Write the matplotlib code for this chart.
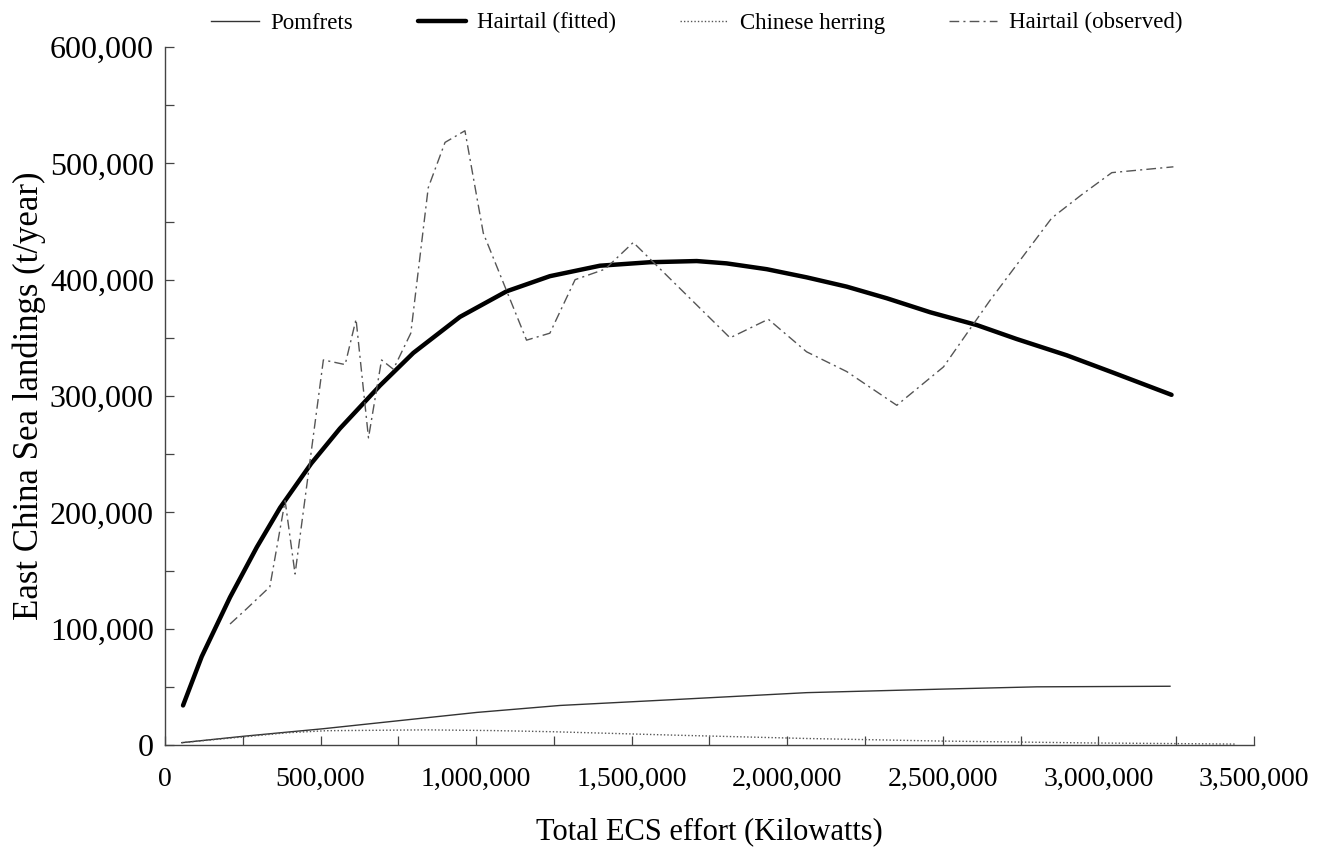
import matplotlib
matplotlib.use("Agg")
import matplotlib.pyplot as plt
from matplotlib.ticker import MultipleLocator, FuncFormatter

plt.rcParams.update({
    "font.family": ["Liberation Serif", "DejaVu Serif"],
    "font.size": 20,
})

# Hairtail, fitted curve (effort kW, landings t)
fit_x = [58e3, 118e3, 209e3, 295e3, 370e3, 470e3, 562e3, 691e3, 798e3,
         948e3, 1098e3, 1237e3, 1398e3, 1559e3, 1709e3, 1805e3, 1934e3, 2062e3,
         2191e3, 2320e3, 2459e3, 2609e3, 2737e3, 2898e3, 3048e3, 3235e3]
fit_y = [34e3, 76e3, 127e3, 170e3, 204e3, 242e3, 272e3, 309e3, 337e3,
         368e3, 390e3, 403e3, 412e3, 415e3, 416e3, 414e3, 409e3, 402e3,
         394e3, 384e3, 372e3, 361e3, 349e3, 335e3, 320e3, 301e3]

# Hairtail, observed landings
obs_x = [209e3, 262e3, 337e3, 386e3, 418e3, 509e3, 579e3, 614e3, 654e3, 696e3,
         734e3, 790e3, 846e3, 900e3, 964e3, 1023e3, 1162e3, 1237e3, 1318e3, 1414e3,
         1505e3, 1816e3, 1939e3, 2062e3, 2191e3, 2352e3, 2502e3, 2651e3, 2850e3,
         2946e3, 3043e3, 3241e3]
obs_y = [104e3, 117e3, 136e3, 210e3, 147e3, 331e3, 327e3, 366e3, 264e3, 331e3,
         323e3, 354e3, 479e3, 518e3, 528e3, 440e3, 348e3, 354e3, 400e3, 409e3,
         432e3, 350e3, 366e3, 338e3, 321e3, 292e3, 325e3, 382e3, 453e3,
         473e3, 492e3, 497e3]

# Pomfrets
pom_x = [54e3, 252e3, 509e3, 755e3, 1002e3, 1270e3, 1634e3, 2062e3, 2491e3, 2802e3, 3230e3]
pom_y = [2e3, 7.5e3, 14e3, 21e3, 28e3, 34e3, 39e3, 45e3, 48e3, 50e3, 50.5e3]

# Chinese herring
her_x = [54e3, 391e3, 520e3, 841e3, 1055e3, 1247e3, 1633e3, 2062e3, 2491e3, 2962e3, 3439e3]
her_y = [2e3, 10.5e3, 12.3e3, 13e3, 12.4e3, 11.4e3, 8.5e3, 5.6e3, 3.4e3, 1.8e3, 0.8e3]

fig = plt.figure(figsize=(13.27, 8.5), dpi=100)
ax = fig.add_axes([165 / 1327, 105 / 850, 1089 / 1327, 698 / 850])

ax.plot(pom_x, pom_y, color="#333333", lw=1.0, label="Pomfrets")
ax.plot(fit_x, fit_y, color="black", lw=3.2, solid_capstyle="round",
        solid_joinstyle="round", label="Hairtail (fitted)")
ax.plot(her_x, her_y, color="#555555", lw=1.0, linestyle=(0, (1, 1.5)), label="Chinese herring")
ax.plot(obs_x, obs_y, color="#555555", lw=1.0, linestyle=(0, (7, 3, 1.5, 3)), label="Hairtail (observed)")

ax.set_xlim(0, 3500000)
ax.set_ylim(0, 600000)
ax.xaxis.set_major_locator(MultipleLocator(500000))
ax.xaxis.set_minor_locator(MultipleLocator(250000))
ax.yaxis.set_major_locator(MultipleLocator(100000))
ax.yaxis.set_minor_locator(MultipleLocator(50000))
fmt = FuncFormatter(lambda v, p: f"{v:,.0f}")
ax.xaxis.set_major_formatter(fmt)
ax.yaxis.set_major_formatter(fmt)

for s in ["top", "right"]:
    ax.spines[s].set_visible(False)
for s in ["left", "bottom"]:
    ax.spines[s].set_color("#444444")
    ax.spines[s].set_linewidth(1.0)

ax.tick_params(axis="both", which="both", direction="in", length=6.5, width=0.9, color="#444444")
ax.tick_params(axis="x", which="major", pad=16, labelsize=20)
ax.tick_params(axis="y", which="major", pad=8, labelsize=23)

ax.set_xlabel("Total ECS effort (Kilowatts)", fontsize=22, labelpad=18)
ax.set_ylabel("East China Sea landings (t/year)", fontsize=25, labelpad=3)

fig.legend(loc="center", bbox_to_anchor=(0.525, 0.973), ncol=4, frameon=False,
           fontsize=16.5, handlelength=2.1, handletextpad=0.5, columnspacing=2.8)

fig.savefig("out.png", dpi=100)
